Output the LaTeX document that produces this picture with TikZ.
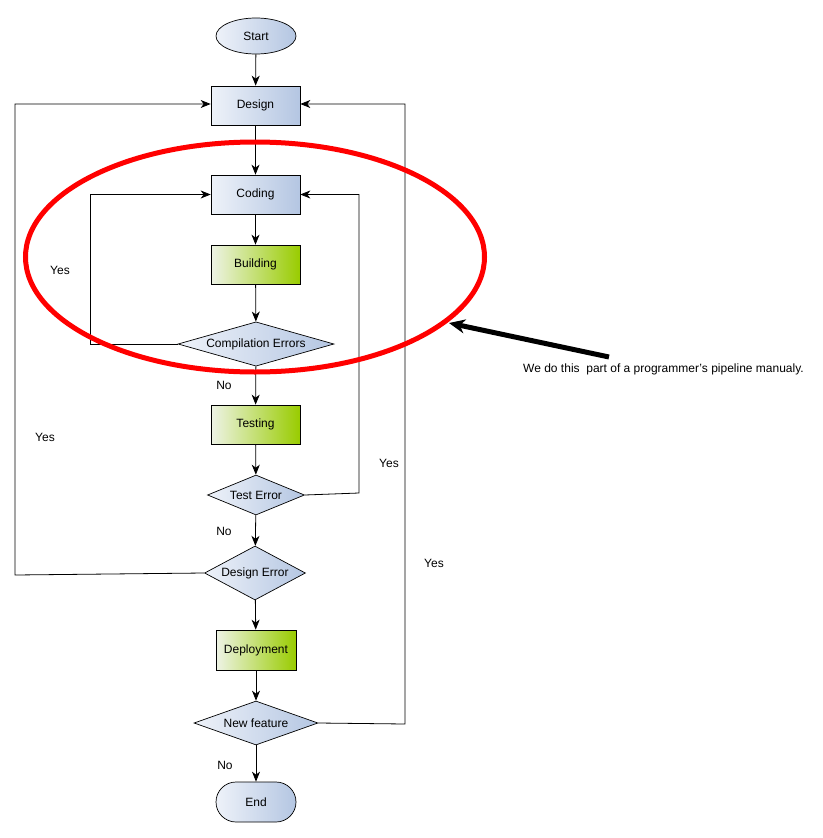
\documentclass[tikz,border=0pt]{standalone}
\usepackage{fontspec}
\setmainfont{Liberation Sans}
\usetikzlibrary{shapes.geometric,shapes.misc,arrows.meta}
\definecolor{bluelight}{HTML}{EEF2F9}
\definecolor{bluedark}{HTML}{B4C6E2}
\definecolor{greenlight}{HTML}{EEF3E6}
\definecolor{greendark}{HTML}{99CC00}
\tikzset{
  base/.style={draw=black, line width=0.7pt, font=\fontsize{12}{14}\selectfont, inner sep=0pt},
  bluefill/.style={left color=bluelight, right color=bluedark},
  greenfill/.style={left color=greenlight, right color=greendark},
  process/.style={base, bluefill, rectangle, minimum width=89pt, minimum height=39pt},
  work/.style={base, greenfill, rectangle, minimum width=89pt, minimum height=39pt},
  decision/.style={base, bluefill, diamond, aspect=3},
  terminal/.style={base, bluefill},
  flow/.style={draw=black, line width=0.8pt, -{Stealth[length=10pt,width=8pt,inset=3pt]}},
  lbl/.style={font=\fontsize{12}{14}\selectfont, inner sep=0pt},
}
\begin{document}
\begin{tikzpicture}[x=1pt,y=-1pt]
\useasboundingbox (0,0) rectangle (822,838);

% flow nodes
\node[terminal, ellipse, minimum width=80pt, minimum height=36pt] (start) at (256,36) {Start};
\node[process] (design) at (255.5,105.5) {Design};
\node[process] (coding) at (255.5,194.5) {Coding};
\node[work] (building) at (255.5,264.5) {Building};
\node[decision, minimum width=156pt, minimum height=40pt] (comp) at (256,344) {Compilation Errors};
\node[work] (testing) at (255.5,424.5) {Testing};
\node[decision, minimum width=97pt, minimum height=40pt] (test) at (256,495) {Test Error};
\node[decision, minimum width=100pt, minimum height=54pt] (derr) at (255,573) {Design Error};
\node[work, minimum width=80pt, minimum height=40pt] (deploy) at (256,650) {Deployment};
\node[decision, minimum width=124pt, minimum height=44pt] (newf) at (256,723) {New feature};
\node[terminal, rounded rectangle, minimum width=80pt, minimum height=40pt] (end) at (256,802) {End};

% loop corners
\coordinate (c1) at (90,344);
\coordinate (c2) at (90,194.5);
\coordinate (t1) at (359,493);
\coordinate (t2) at (359,194.5);
\coordinate (d1) at (15,575);
\coordinate (d2) at (15,104);
\coordinate (n1) at (405,724);
\coordinate (n2) at (405,104);

% main line
\draw[flow] (start) -- (design);
\draw[flow] (design) -- (coding);
\draw[flow] (coding) -- (building);
\draw[flow] (building) -- (comp);
\draw[flow] (comp) -- (testing);
\draw[flow] (testing) -- (test);
\draw[flow] (test) -- (derr);
\draw[flow] (derr) -- (deploy);
\draw[flow] (deploy) -- (newf);
\draw[flow] (newf) -- (end);

% loops back
\draw[flow] (comp.west) -- (c1) -- (c2) -- (coding.west);
\draw[flow] (test.east) -- (t1) -- (t2) -- (coding.east);
\draw[flow] (derr.west) -- (d1) -- (d2) -- (design.west |- d2);
\draw[flow] (newf.east) -- (n1) -- (n2) -- (design.east |- n2);

% branch labels
\node[lbl] (l1) at (224,385) {No};
\node[lbl] (l2) at (224,531) {No};
\node[lbl] (l3) at (225,765) {No};
\node[lbl] (y1) at (60,270) {Yes};
\node[lbl] (y2) at (45,437) {Yes};
\node[lbl] (y3) at (389,463) {Yes};
\node[lbl] (y4) at (434,563) {Yes};

% highlighted region and note
\node[draw=red, line width=5pt, ellipse, minimum width=459pt, minimum height=230pt, inner sep=0pt] (ring) at (255,257) {};
\node[lbl, anchor=west] (note) at (523,369) {We do this\ \ part of a programmer{\char"27}s pipeline manualy.};
\coordinate (tail) at (609,357);
\coordinate (tip) at (449,323);
\draw[line width=5pt, -{Stealth[length=16pt,width=14pt,inset=5pt]}] (tail) -- (tip);
\end{tikzpicture}
\end{document}
